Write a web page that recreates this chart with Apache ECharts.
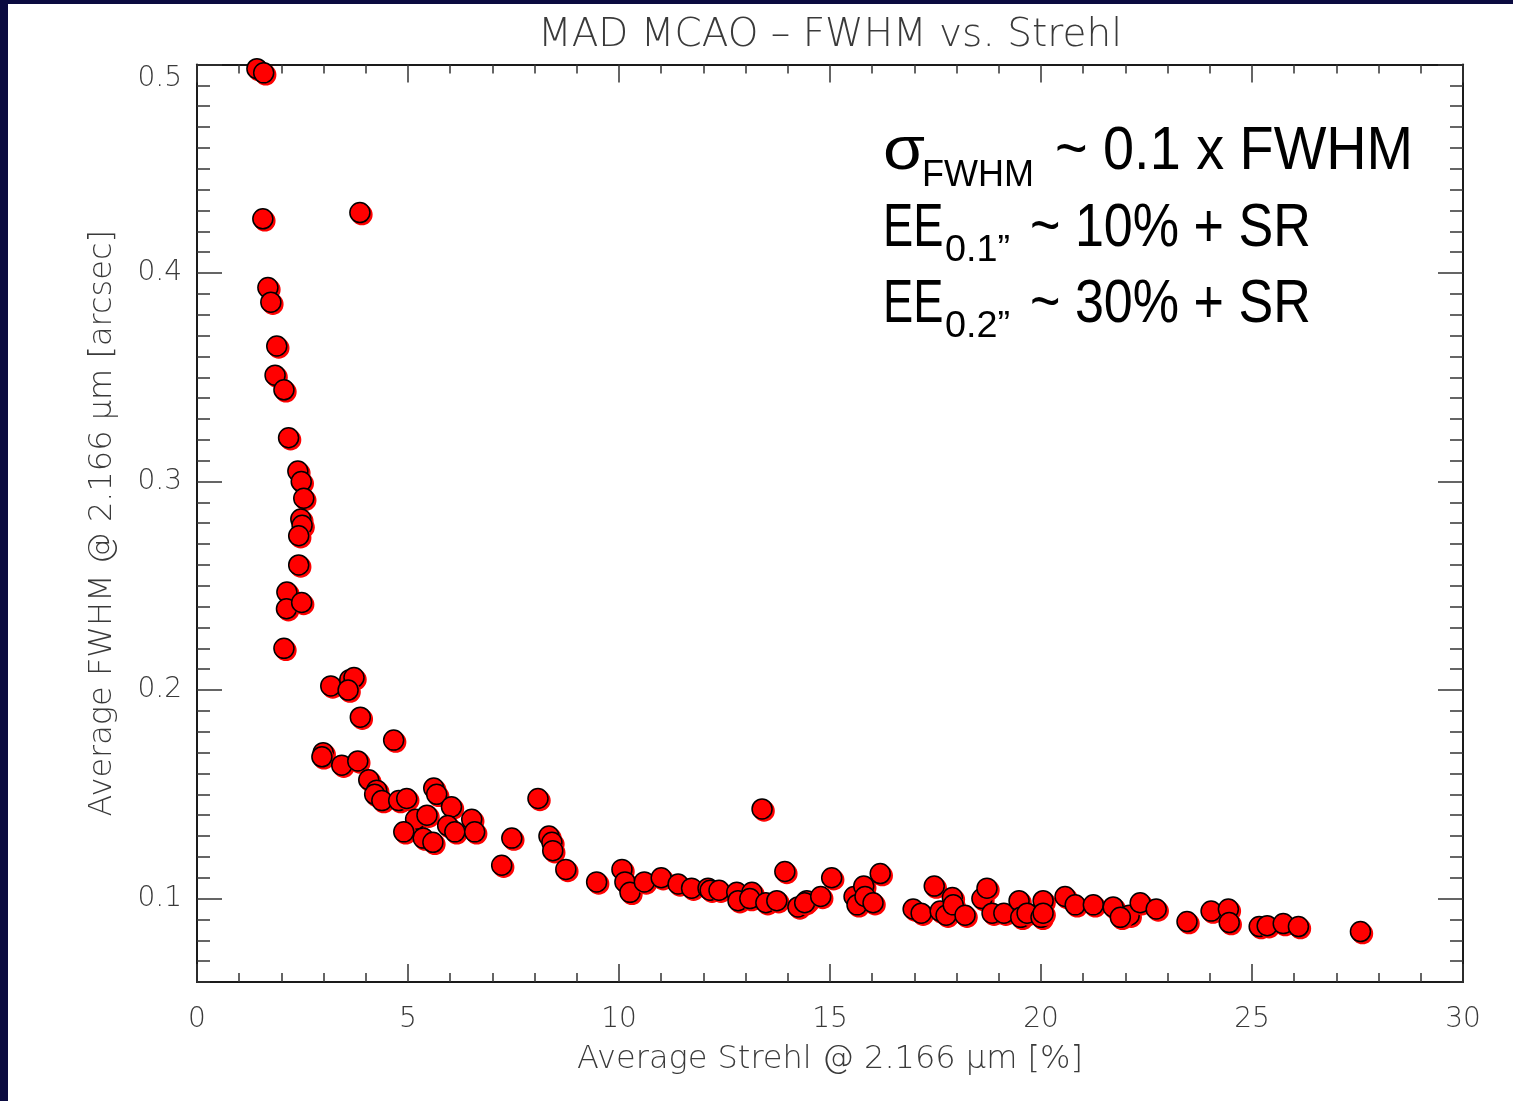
<!DOCTYPE html>
<html>
<head>
<meta charset="utf-8">
<script src="https://cdn.jsdelivr.net/npm/echarts@6/dist/echarts.min.js"></script>
<style>
html,body{margin:0;padding:0;background:#fff;}
#chart{width:1513px;height:1101px;}
</style>
</head>
<body>
<div id="chart"></div>
<script>
// Average Strehl @ 2.166 um [%]
const strehl = [1.42,1.58,1.56,3.86,1.68,1.75,1.89,1.85,2.06,2.17,2.39,2.47,2.53,2.46,2.49,2.41,2.41,2.13,2.12,2.48,2.06,
  3.17,3.62,3.72,3.58,3.87,4.66,2.99,2.96,3.43,3.81,4.07,4.26,4.21,4.38,4.78,4.97,5.61,5.68,6.03,5.18,5.45,4.90,5.36,5.59,5.94,6.11,6.51,6.58,
  8.08,7.46,7.22,8.34,8.41,8.43,8.74,9.47,10.07,10.14,10.26,10.60,11.00,11.40,11.72,12.11,12.16,12.37,12.79,12.82,13.15,13.10,13.39,13.48,13.74,13.93,
  14.24,14.45,14.40,14.78,15.04,15.57,15.64,15.80,15.83,16.02,16.19,16.97,17.16,17.47,17.61,17.75,17.90,17.92,18.20,18.60,18.72,18.84,19.12,19.48,19.52,19.67,
  20.05,20.00,20.05,20.57,20.81,21.24,21.71,22.09,21.88,22.35,22.73,23.46,24.03,24.44,24.46,25.17,25.36,25.74,26.10,27.57];
// Average FWHM @ 2.166 um [arcsec]
const fwhm = [0.498,0.496,0.426,0.429,0.393,0.386,0.365,0.351,0.344,0.321,0.305,0.300,0.292,0.282,0.279,0.274,0.260,0.247,0.239,0.242,0.220,
  0.202,0.205,0.206,0.200,0.187,0.176,0.170,0.168,0.164,0.166,0.157,0.152,0.150,0.147,0.147,0.148,0.153,0.150,0.144,0.138,0.140,0.132,0.129,0.127,0.135,0.132,0.138,0.132,
  0.148,0.129,0.116,0.130,0.127,0.123,0.114,0.108,0.114,0.108,0.103,0.108,0.110,0.107,0.105,0.105,0.104,0.104,0.103,0.099,0.103,0.100,0.143,0.098,0.099,0.113,
  0.096,0.099,0.098,0.101,0.110,0.101,0.097,0.106,0.101,0.098,0.112,0.095,0.093,0.106,0.094,0.092,0.1005,0.097,0.092,0.100,0.105,0.093,0.093,0.099,0.091,0.093,
  0.099,0.091,0.093,0.101,0.097,0.097,0.096,0.092,0.091,0.098,0.095,0.089,0.094,0.095,0.0885,0.0866,0.087,0.088,0.0866,0.0842];

const xTickLabels = [0,5,10,15,20,25,30];
const yTickLabels = [0.1,0.2,0.3,0.4,0.5];
const yMin = 0.06, yMax = 0.5;
const yMinorTicks = [];
for (let i = 6; i <= 50; i++) { const v = i / 100; if (i % 10 !== 0) yMinorTicks.push(v); }

const titleText = 'MAD MCAO \u2013 FWHM vs. Strehl';
const xName = 'Average Strehl @ 2.166 \u03bcm [%]';
const yName = 'Average FWHM @ 2.166 \u03bcm [arcsec]';

const points = strehl.map((s, i) => [s, fwhm[i]]);

const thinFont = '"DejaVu Sans", sans-serif';
const annFont = '"Liberation Sans", sans-serif';
const labelColor = '#3a3a3a';
const lineColor = '#1a1a1a';

function xAxisDef(pos, showLabel) {
  return {
    type: 'value', position: pos, min: xTickLabels[0], max: xTickLabels[xTickLabels.length - 1], interval: 5,
    axisLine: { show: true, lineStyle: { color: lineColor, width: 2 } },
    axisTick: { show: true, inside: true, length: 18, lineStyle: { color: '#333', width: 1.5 } },
    minorTick: { show: true, splitNumber: 5, length: 9, lineStyle: { color: '#333', width: 1.5 } },
    splitLine: { show: false }, minorSplitLine: { show: false },
    axisLabel: { show: showLabel, fontFamily: thinFont, fontWeight: 200, fontSize: 28, color: labelColor, margin: 24 },
    name: showLabel ? xName : '', nameLocation: 'middle', nameGap: 62,
    nameTextStyle: { fontFamily: thinFont, fontWeight: 200, fontSize: 32, color: labelColor }
  };
}
function yAxisDef(pos, major, showLabel) {
  return {
    type: 'value', position: pos, min: yMin, max: yMax,
    axisLine: { show: major, lineStyle: { color: lineColor, width: 2 } },
    axisTick: { show: true, inside: true, length: major ? 25 : 13, customValues: major ? yTickLabels : yMinorTicks,
      lineStyle: { color: '#333', width: 1.5 } },
    splitLine: { show: false },
    axisLabel: { show: showLabel, customValues: yTickLabels, formatter: v => v.toFixed(1),
      fontFamily: thinFont, fontWeight: 200, fontSize: 28, color: labelColor, margin: 15,
      verticalAlignMaxLabel: 'top' },
    name: showLabel ? yName : '', nameLocation: 'middle', nameGap: 78, nameRotate: 90,
    nameTextStyle: { fontFamily: thinFont, fontWeight: 200, fontSize: 32, color: labelColor }
  };
}

function annText(txt, x, y, size, sx) {
  return { type: 'text', x: x, y: y, scaleX: sx, silent: true,
    style: { text: txt, font: size + 'px ' + annFont, fill: '#000', align: 'left', verticalAlign: 'middle' } };
}

const chart = echarts.init(document.getElementById('chart'), null, { renderer: 'canvas' });
const option = {
  backgroundColor: '#ffffff',
  animation: false,
  grid: { left: 197, right: 50, top: 64.5, bottom: 119, containLabel: false },
  xAxis: [xAxisDef('bottom', true), xAxisDef('top', false)],
  yAxis: [yAxisDef('left', true, true), yAxisDef('left', false, false), yAxisDef('right', true, false), yAxisDef('right', false, false)],
  series: [{
    type: 'scatter', xAxisIndex: 0, yAxisIndex: 0, data: points,
    symbol: 'circle', symbolSize: 20,
    itemStyle: { color: '#ff0000', borderColor: '#000', borderWidth: 1.5, opacity: 1,
      shadowColor: '#ff0000', shadowBlur: 0, shadowOffsetX: 2, shadowOffsetY: 2 },
    emphasis: { disabled: true }
  }],
  graphic: [
    { type: 'rect', left: 0, top: 0, shape: { width: 8, height: 1101 }, style: { fill: '#0b0b40' }, silent: true },
    { type: 'rect', left: 0, top: 0, shape: { width: 1513, height: 4 }, style: { fill: '#0b0b40' }, silent: true },
    { type: 'text', x: 830, y: 36, silent: true, style: { text: titleText, font: '200 39px "DejaVu Sans", sans-serif', fill: labelColor, align: 'center', verticalAlign: 'middle' } },
    // annotation line 1
    annText('\u03c3', 883, 152, 62, 1.1),
    annText('FWHM', 922, 176, 36, 1),
    annText('~ 0.1 x FWHM', 1055, 152, 62, 0.9),
    // annotation line 2
    annText('EE', 883, 229, 62, 0.73),
    annText('0.1\u201d', 945, 251, 36, 1.05),
    annText('~ 10% + SR', 1030, 229, 62, 0.84),
    // annotation line 3
    annText('EE', 883, 305, 62, 0.73),
    annText('0.2\u201d', 945, 327, 36, 1.05),
    annText('~ 30% + SR', 1030, 305, 62, 0.84)
  ]
};
chart.setOption(option);
</script>
</body>
</html>
